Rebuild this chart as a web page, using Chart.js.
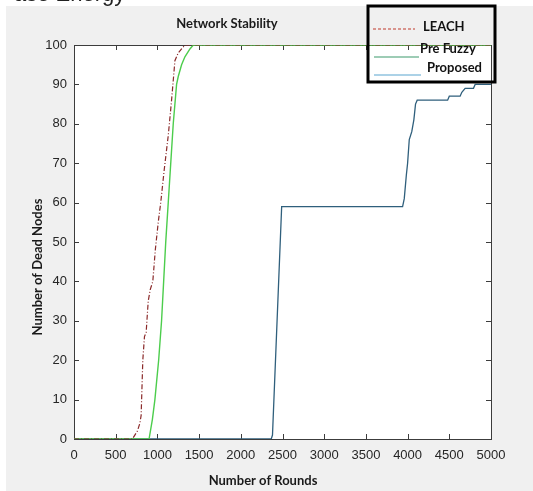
<!DOCTYPE html>
<html>
<head>
<meta charset="utf-8">
<script src="https://cdn.jsdelivr.net/npm/chart.js@4/dist/chart.umd.min.js"></script>
<style>
  body{margin:0;background:#fff;width:533px;height:491px;overflow:hidden;position:relative;}
  #cut{position:absolute;left:14px;top:-19px;font:22px "Liberation Sans",Arial,sans-serif;color:#222;z-index:2;white-space:nowrap;}
  canvas{position:absolute;left:0;top:0;}
</style>
</head>
<body>
<div id="cut">ase Energy</div>
<canvas id="c" width="533" height="491"></canvas>
<script>
// values (rounds -> dead nodes)
const leachRounds=[0,700,760,790,805,825,845,865,890,915,945,975,1010,1040,1080,1130,1170,1210,1250,1290,1330,5000];
const leachDead  =[0,0,2,4,6,20,26,27,35,38,40,48,55,60,68,77,86,96,98,99,100,100];

const preFuzzyRounds=[0,900,940,970,1015,1050,1075,1100,1130,1160,1190,1230,1250,1290,1330,1390,1430,5000];
const preFuzzyDead  =[0,0,5,10,20,30,40,50,60,70,80,90,92,95,97,99,100,100];

const proposedRounds=[0,2365,2380,2490,3940,3960,3985,4000,4020,4050,4075,4095,4115,4480,4500,4630,4650,4690,4790,4810,5000];
const proposedDead  =[0,0,1,59,59,61,67,70,76,78,81,85,86,86,87,87,88,89,89,90,90];

const seriesNames=["LEACH","Pre Fuzzy","Proposed"];
const xTicks=[0,500,1000,1500,2000,2500,3000,3500,4000,4500,5000];
const yTicks=[0,10,20,30,40,50,60,70,80,90,100];

const pts=(xs,ys)=>xs.map((x,i)=>({x:x,y:ys[i]}));

const boldFont='bold 13px Lato, "Open Sans", sans-serif';
const tickFont={family:'"Liberation Sans", Arial, sans-serif',size:13};

const frame={
  id:"frame",
  beforeDraw(chart){
    const ctx=chart.ctx;
    ctx.save();
    ctx.fillStyle="#fff";
    ctx.fillRect(0,0,533,491);
    ctx.fillStyle="#f0f0f0";
    ctx.fillRect(6,6,527,485);
    const a=chart.chartArea;
    ctx.fillStyle="#fff";
    ctx.fillRect(a.left,a.top,a.right-a.left,a.bottom-a.top);
    ctx.restore();
  },
  beforeDatasetsDraw(chart){
    const ctx=chart.ctx,a=chart.chartArea;
    const xs=chart.scales.x,ys=chart.scales.y;
    ctx.save();
    ctx.strokeStyle="#3c3c3c";
    ctx.lineWidth=1;
    ctx.strokeRect(a.left+0.5,a.top+0.5,a.right-a.left,a.bottom-a.top);
    ctx.beginPath();
    xTicks.forEach(v=>{
      const px=Math.round(xs.getPixelForValue(v))+0.5;
      ctx.moveTo(px,a.bottom);ctx.lineTo(px,a.bottom-5);
      ctx.moveTo(px,a.top);ctx.lineTo(px,a.top+5);
    });
    yTicks.forEach(v=>{
      const py=Math.round(ys.getPixelForValue(v))+0.5;
      ctx.moveTo(a.left,py);ctx.lineTo(a.left+5,py);
      ctx.moveTo(a.right,py);ctx.lineTo(a.right-5,py);
    });
    ctx.stroke();
    ctx.restore();
  },
  afterDraw(chart){
    const ctx=chart.ctx;
    ctx.save();
    ctx.fillStyle="#1a1a1a";
    ctx.font=boldFont;
    ctx.textAlign="center";ctx.textBaseline="middle";
    ctx.fillText("Network Stability",227,24);
    ctx.fillText("Number of Rounds",263,481);
    ctx.save();
    ctx.translate(38,267);ctx.rotate(-Math.PI/2);
    ctx.fillText("Number of Dead Nodes",0,0);
    ctx.restore();
    // legend box
    ctx.strokeStyle="#000";ctx.lineWidth=3;
    ctx.strokeRect(368,6,127,76);
    const rows=[
      {y:27,ly:29,x0:373,x1:415,tx:423,color:"#c0392b",dash:[3,2]},
      {y:49,ly:57,x0:374,x1:419,tx:420,color:"#3d9a6c",dash:[]},
      {y:68,ly:75,x0:374,x1:421,tx:427,color:"#5aa6cf",dash:[]}
    ];
    ctx.textAlign="left";
    rows.forEach((r,i)=>{
      ctx.beginPath();
      ctx.lineWidth=1.2;ctx.strokeStyle=r.color;ctx.setLineDash(r.dash);
      ctx.moveTo(r.x0,r.ly);ctx.lineTo(r.x1,r.ly);ctx.stroke();
      ctx.setLineDash([]);
      ctx.fillStyle="#111";
      ctx.fillText(seriesNames[i],r.tx,r.y);
    });
    ctx.restore();
  }
};

new Chart(document.getElementById("c"),{
  type:"line",
  data:{
    datasets:[
      {label:seriesNames[0],data:pts(leachRounds,leachDead),borderColor:"#8b2a2a",borderWidth:1.2,borderDash:[5,2,1,2],pointRadius:0,tension:0},
      {label:seriesNames[1],data:pts(preFuzzyRounds,preFuzzyDead),borderColor:"#4ccd4c",borderWidth:1.4,pointRadius:0,tension:0},
      {label:seriesNames[2],data:pts(proposedRounds,proposedDead),borderColor:"#2f5f7c",borderWidth:1.3,pointRadius:0,tension:0}
    ]
  },
  options:{
    responsive:false,
    animation:false,
    events:[],
    layout:{padding:{left:0,right:42,top:45,bottom:0}},
    plugins:{legend:{display:false},title:{display:false},tooltip:{enabled:false}},
    scales:{
      x:{
        type:"linear",min:0,max:5000,
        afterBuildTicks:s=>{s.ticks=xTicks.map(v=>({value:v}));},
        afterFit:s=>{s.height=52;},
        grid:{display:false,drawTicks:false},border:{display:false},
        ticks:{padding:9,maxRotation:0,autoSkip:false,color:"#262626",font:tickFont,callback:v=>String(v)}
      },
      y:{
        min:0,max:100,
        afterBuildTicks:s=>{s.ticks=yTicks.map(v=>({value:v}));},
        afterFit:s=>{s.width=74;},
        grid:{display:false,drawTicks:false},border:{display:false},
        ticks:{padding:7,autoSkip:false,color:"#262626",font:tickFont,callback:v=>String(v)}
      }
    }
  },
  plugins:[frame]
});
</script>
</body>
</html>
